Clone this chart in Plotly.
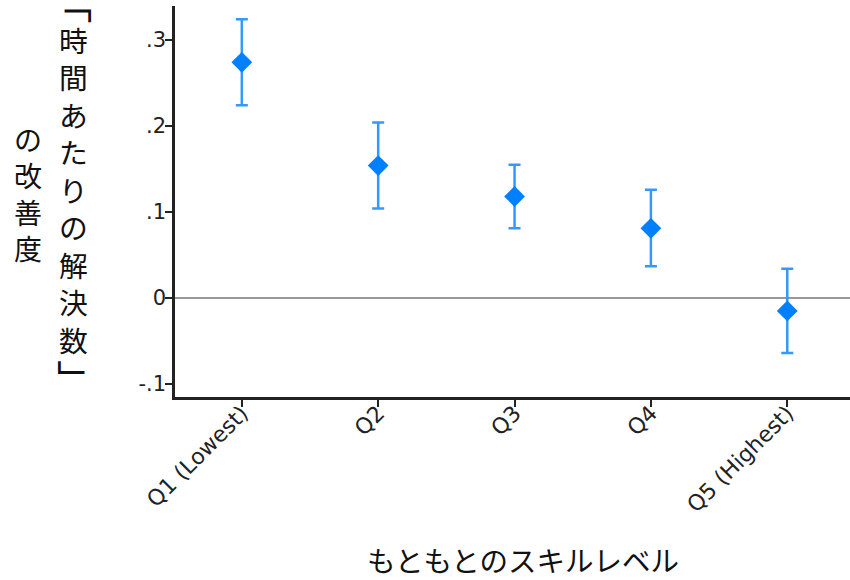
import plotly.graph_objects as go

categories = ["Q1 (Lowest)", "Q2", "Q3", "Q4", "Q5 (Highest)"]
estimates = [0.274, 0.154, 0.118, 0.081, -0.015]
ci_upper = [0.324, 0.204, 0.155, 0.126, 0.034]
ci_lower = [0.224, 0.104, 0.081, 0.037, -0.064]
ytick_vals = [-0.1, 0, 0.1, 0.2, 0.3]
ytick_text = ["-.1", "0", ".1", ".2", ".3"]
ytitle_open, ytitle_main, ytitle_close = "「", "時間あたりの解決数", "」"
ytitle_sub = "の改善度"
xtitle = "もともとのスキルレベル"

xs = list(range(len(categories)))
err_plus = [u - e for u, e in zip(ci_upper, estimates)]
err_minus = [e - l for e, l in zip(estimates, ci_lower)]

fig = go.Figure()
fig.add_trace(go.Scatter(
    x=xs, y=estimates, mode="markers",
    marker=dict(symbol="diamond", size=16, color="#0080ff"),
    error_y=dict(type="data", symmetric=False, array=err_plus, arrayminus=err_minus,
                 color="#3399ff", thickness=2.5, width=6),
    showlegend=False,
))

fig.add_hline(y=0, line=dict(color="#999999", width=2), layer="below")

W, H = 850, 580
ml, mr, mt, mb = 175, 0, 6, 183
pw, ph = W - ml - mr, H - mt - mb

def px_x(px):
    return (px - ml) / pw

def px_y(py):
    return (H - mb - py) / ph

cjk = "Noto Sans CJK JP"
tcolor = "#111111"

def ann(text, cx, cy, size, angle=0):
    fig.add_annotation(text=text, xref="paper", yref="paper", x=px_x(cx), y=px_y(cy),
                       xanchor="center", yanchor="middle", showarrow=False,
                       textangle=angle, font=dict(family=cjk, size=size, color=tcolor))

# vertical writing: stacked characters, brackets rotated into vertical form
ann("<br>".join(ytitle_main), 74, 189.5, 28.8)
ann(ytitle_open, 73.5, 3, 40, angle=90)
ann(ytitle_close, 79, 380, 40, angle=90)
ann("<br>".join(ytitle_sub), 28, 194, 28)
ann(xtitle, 523, 559, 28.5)

fig.update_layout(
    width=W, height=H,
    margin=dict(l=ml, r=mr, t=mt, b=mb, autoexpand=False),
    paper_bgcolor="white", plot_bgcolor="white",
    font=dict(family="DejaVu Sans", size=21, color="#222222"),
    xaxis=dict(range=[-0.49, 4.46], tickmode="array", tickvals=xs, ticktext=categories,
               tickangle=-45, showgrid=False, zeroline=False, showline=True,
               linecolor="#222222", linewidth=2.5, ticks="outside", ticklen=7,
               tickwidth=1.5, tickcolor="#222222", tickfont=dict(size=22),
               ticklabelstandoff=-15, automargin=False),
    yaxis=dict(range=[-0.1151, 0.3395], tickmode="array", tickvals=ytick_vals,
               ticktext=ytick_text, showgrid=False, zeroline=False, showline=True,
               linecolor="#222222", linewidth=2.5, ticks="outside", ticklen=7,
               tickwidth=1.5, tickcolor="#222222", tickfont=dict(size=21),
               ticklabelstandoff=-5, automargin=False),
)

fig.write_html("out.html", config={"displayModeBar": False},
               post_script="document.body.style.margin='0';")
